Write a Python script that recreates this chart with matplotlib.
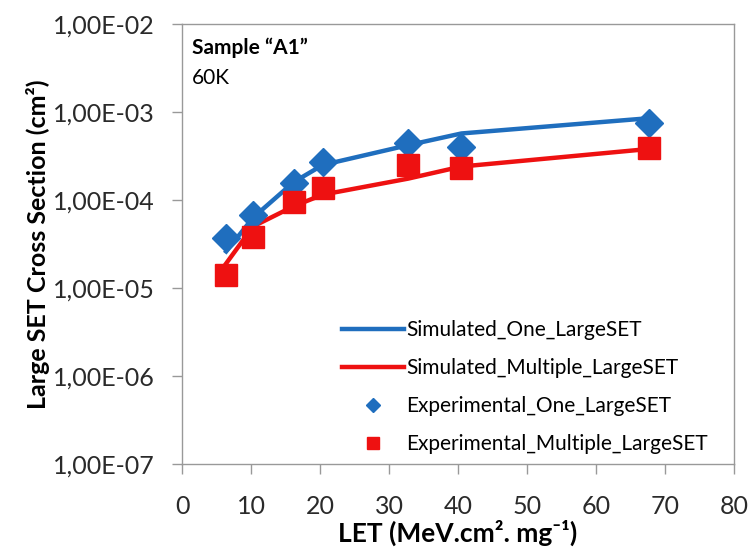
import matplotlib
matplotlib.use("Agg")
import matplotlib.pyplot as plt
from matplotlib.ticker import FixedLocator, FixedFormatter

plt.rcParams['font.family'] = ['Lato', 'DejaVu Sans']

# LET values (MeV.cm2/mg)
let_values = [6.4, 10.3, 16.2, 20.4, 32.8, 40.5, 67.7]

# cross sections (cm2)
sim_one = [2.6e-5, 6.3e-5, 1.6e-4, 2.5e-4, 4.2e-4, 5.7e-4, 8.5e-4]
sim_multiple = [1.9e-5, 5.0e-5, 8.5e-5, 1.15e-4, 1.75e-4, 2.4e-4, 3.8e-4]
exp_one = [3.7e-5, 6.8e-5, 1.55e-4, 2.7e-4, 4.4e-4, 4.0e-4, 7.4e-4]
exp_multiple = [1.4e-5, 3.8e-5, 9.5e-5, 1.36e-4, 2.5e-4, 2.3e-4, 3.9e-4]

y_ticks = [1e-7, 1e-6, 1e-5, 1e-4, 1e-3, 1e-2]
y_tick_labels = ['1,00E-07', '1,00E-06', '1,00E-05', '1,00E-04', '1,00E-03', '1,00E-02']
x_ticks = [0, 10, 20, 30, 40, 50, 60, 70, 80]

blue = '#1F6EBE'
red = '#EE1111'
grey = '#999999'

fig = plt.figure(figsize=(7.54, 5.55), dpi=100)
ax = fig.add_axes([0.2414, 0.164, 0.732, 0.7928])

ax.plot(let_values, sim_one, color=blue, lw=3.2, label='Simulated_One_LargeSET', zorder=2)
ax.plot(let_values, sim_multiple, color=red, lw=3.2, label='Simulated_Multiple_LargeSET', zorder=2)
ax.plot(let_values, exp_one, ls='none', marker='D', ms=14, color=blue,
        label='Experimental_One_LargeSET', zorder=3)
ax.plot(let_values, exp_multiple, ls='none', marker='s', ms=16, color=red,
        label='Experimental_Multiple_LargeSET', zorder=4)

ax.set_yscale('log')
ax.set_ylim(1e-7, 1e-2)
ax.set_xlim(0, 80)
ax.yaxis.set_major_locator(FixedLocator(y_ticks))
ax.yaxis.set_major_formatter(FixedFormatter(y_tick_labels))
ax.yaxis.set_minor_locator(FixedLocator([]))
ax.set_xticks(x_ticks)

for side in ax.spines.values():
    side.set_color(grey)
    side.set_linewidth(1.0)
ax.tick_params(axis='both', colors=grey, labelcolor='#2a2a2a', labelsize=18,
               length=7.5, width=1.0, direction='out')
ax.tick_params(axis='y', pad=12)
ax.tick_params(axis='x', pad=15)

ax.set_ylabel('Large SET Cross Section (cm²)', fontsize=18, fontweight='bold', labelpad=2)
ax.set_xlabel('LET (MeV.cm². mg⁻¹)', fontsize=19, fontweight='bold', labelpad=1)

ax.text(0.018, 0.945, 'Sample “A1”', transform=ax.transAxes, fontsize=15,
        fontweight='bold', ha='left', va='center')
ax.text(0.018, 0.878, '60K', transform=ax.transAxes, fontsize=15,
        ha='left', va='center')

leg = ax.legend(loc='lower right', bbox_to_anchor=(0.987, -0.02), frameon=False,
                fontsize=15, handlelength=3.0, handletextpad=0.1,
                labelspacing=0.86, markerscale=0.5)

fig.savefig('out.png', dpi=100)
